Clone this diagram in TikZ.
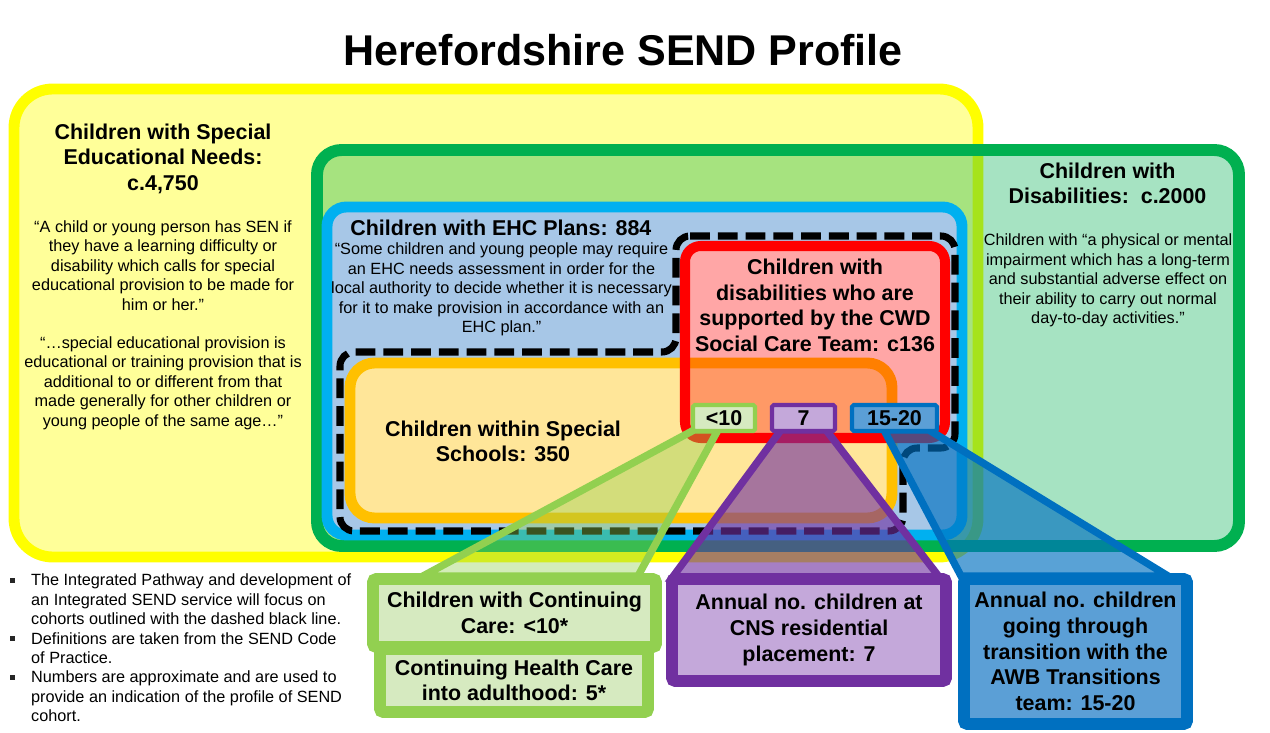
\documentclass[tikz,border=0pt]{standalone}
\usepackage{fontspec}
\setmainfont{Liberation Sans}
\usetikzlibrary{calc}

\definecolor{senyellow}{HTML}{FFFF00}
\definecolor{senpale}{HTML}{FFFF99}
\definecolor{cwdgreen}{HTML}{00B050}
\definecolor{ehcblue}{HTML}{00B0F0}
\definecolor{ehcpale}{HTML}{A7C7E7}
\definecolor{schoolorange}{HTML}{FFC000}
\definecolor{schoolpale}{HTML}{FFE699}
\definecolor{carered}{HTML}{FF0000}
\definecolor{carepink}{HTML}{FFA6A6}
\definecolor{mixorange}{HTML}{FF9966}
\definecolor{mixedge}{HTML}{FF7F00}
\definecolor{chcgreen}{HTML}{92D050}
\definecolor{chcpale}{HTML}{D6EAC0}
\definecolor{cnspurple}{HTML}{7030A0}
\definecolor{cnspale}{HTML}{C4A8DA}
\definecolor{awbblue}{HTML}{0070C0}
\definecolor{awbpale}{HTML}{5B9FD6}

\pgfdeclarelayer{regions}
\pgfdeclarelayer{cones}
\pgfsetlayers{regions,cones,main}

\tikzset{
  senarea/.style={line width=6.2pt, draw=senyellow, fill=senpale, rounded corners=22pt},
  cwdarea/.style={line width=6.8pt, draw=cwdgreen, fill=cwdgreen, fill opacity=0.35, rounded corners=14pt},
  ehcarea/.style={line width=6.2pt, draw=ehcblue, fill=ehcpale, rounded corners=11pt},
  cohort/.style={line width=4pt, draw=black, dash pattern=on 11.3pt off 4.5pt, rounded corners=8pt},
  schoolarea/.style={line width=6.2pt, draw=schoolorange, fill=schoolpale, rounded corners=14pt},
  carearea/.style={line width=5.7pt, draw=carered, rounded corners=9pt},
  tag/.style={rectangle, line width=2.3pt, rounded corners=1pt, minimum height=5.2mm,
    inner sep=0pt, outer sep=0pt, font=\bfseries\fontsize{12.2}{14.5}\selectfont},
  panel/.style={rectangle, line width=6.8pt, rounded corners=2pt, inner sep=0pt, outer sep=0pt,
    align=center, font=\bfseries\fontsize{12.2}{14.6}\selectfont},
  cone/.style={line width=4.2pt, line join=miter},
  pagetitle/.style={font=\bfseries\fontsize{24.5}{29}\selectfont},
  heading/.style={align=center, font=\bfseries\fontsize{12.2}{14.5}\selectfont},
  quote/.style={align=center, font=\fontsize{9.25}{11.05}\selectfont},
  notes/.style={align=left, font=\fontsize{9.25}{11.05}\selectfont},
}

\begin{document}
\begin{tikzpicture}[x=0.2mm, y=-0.2mm]
\useasboundingbox (0,0) rectangle (1270,733);
\node[pagetitle] (title) at (623,50) {Herefordshire SEND Profile};

% nested cohorts
\begin{pgfonlayer}{regions}
\draw[senarea] (14,89) rectangle (978,557);
\draw[cwdarea] (317,150) rectangle (1239,546);
\draw[ehcarea] (327,207) rectangle (962,535);
\draw[cohort] (676,236) -- (955,236) -- (955,448) -- (903,448) -- (903,531)
  -- (340,531) -- (340,352) -- (676,352) -- cycle;
\draw[schoolarea] (350,363) rectangle (892,518);
\fill[carepink, rounded corners=9pt] (685,246) rectangle (945,438);
\begin{scope}
  \clip[rounded corners=9pt] (685,246) rectangle (945,438);
  \draw[schoolarea, draw=mixedge, fill=mixorange] (350,363) rectangle (892,518);
\end{scope}
\draw[carearea] (685,246) rectangle (945,438);
\end{pgfonlayer}

% detail panels
\node[panel, draw=chcgreen, fill=chcpale, minimum width=53.6mm, minimum height=12.6mm] (caretwo) at (514,680.5)
  {Continuing Health Care\\into adulthood: 5*};
\node[panel, draw=chcgreen, fill=chcpale, minimum width=56.6mm, minimum height=13.6mm] (careone) at (514.5,613)
  {Children with Continuing\\Care: <10*};
\node[panel, draw=cnspurple, fill=cnspale, minimum width=54.8mm, minimum height=20.4mm] (cns) at (809,630)
  {Annual no. children at\\CNS residential\\placement: 7};
\node[panel, draw=awbblue, fill=awbpale, minimum width=44.6mm, minimum height=29mm] (awb) at (1075.5,651.5)
  {Annual no. children\\going through\\transition with the\\AWB Transitions\\team: 15-20};

\node[tag, draw=chcgreen, fill=chcpale, minimum width=12.4mm] (tagten) at (724,418) {<10};
\node[tag, draw=cnspurple, fill=cnspale, minimum width=12.6mm] (tagseven) at (803.5,418) {7};
\node[tag, draw=awbblue, fill=awbpale, minimum width=17mm] (tagfifteen) at (894.5,418) {15-20};

% callouts
\begin{pgfonlayer}{cones}
\filldraw[cone, draw=chcgreen, fill=chcgreen, fill opacity=0.4]
  ($(tagten.south)+(-30,-1)$) -- ($(tagten.south)+(-6,-1)$)
  -- ($(careone.north east)+(-18,-3)$) -- ($(careone.north west)+(50,-3)$) -- cycle;
\filldraw[cone, draw=cnspurple, fill=cnspurple, fill opacity=0.62]
  ($(tagseven.south)+(-22.5,-1)$) -- ($(tagseven.south)+(22.5,-1)$)
  -- ($(cns.north east)+(-6,-1)$) -- ($(cns.north west)+(0,-1)$) -- cycle;
\filldraw[cone, draw=awbblue, fill=awbblue, fill opacity=0.65]
  ($(tagfifteen.south)+(-10.5,-1)$) -- ($(tagfifteen.south)+(34.5,-1)$)
  -- ($(awb.north east)+(-19,-3)$) -- ($(awb.north west)+(-3,-3)$) -- cycle;
\end{pgfonlayer}

% cohort texts
\node[heading] (senhead) at (163,158.5) {Children with Special\\Educational Needs:\\c.4,750};
\node[quote] (sendef) at (163,265.5) {“A child or young person has SEN if\\they have a learning difficulty or\\disability which calls for special\\educational provision to be made for\\him or her.”};
\node[quote] (senprov) at (163,383) {“…special educational provision is\\educational or training provision that is\\additional to or different from that\\made generally for other children or\\young people of the same age…”};
\node[heading] (cwdhead) at (1107.5,183.5) {Children with\\Disabilities:\ \ c.2000};
\node[quote] (cwddef) at (1108,280.5) {Children with “a physical or mental\\impairment which has a long-term\\and substantial adverse effect on\\their ability to carry out normal\\day-to-day activities.”};
\node[heading, anchor=west, inner sep=0pt] (ehchead) at (350,228) {Children with EHC Plans: 884};
\node[quote] (ehcdef) at (501.5,289.5) {“Some children and young people may require\\an EHC needs assessment in order for the\\local authority to decide whether it is necessary\\for it to make provision in accordance with an\\EHC plan.”};
\node[heading] (socialcare) at (815,305.5) {Children with\\disabilities who are\\supported by the CWD\\Social Care Team: c136};
\node[heading] (schools) at (503,441.5) {Children within Special\\Schools: 350};

% footnotes
\foreach \y in {580,638,677}
  \fill[black!85] (10,\y-2.5) rectangle (15,\y+2.5);
\node[notes, anchor=west] (notes) at (25,648) {The Integrated Pathway and development of\\an Integrated SEND service will focus on\\cohorts outlined with the dashed black line.\\Definitions are taken from the SEND Code\\of Practice.\\Numbers are approximate and are used to\\provide an indication of the profile of SEND\\cohort.};
\end{tikzpicture}
\end{document}
